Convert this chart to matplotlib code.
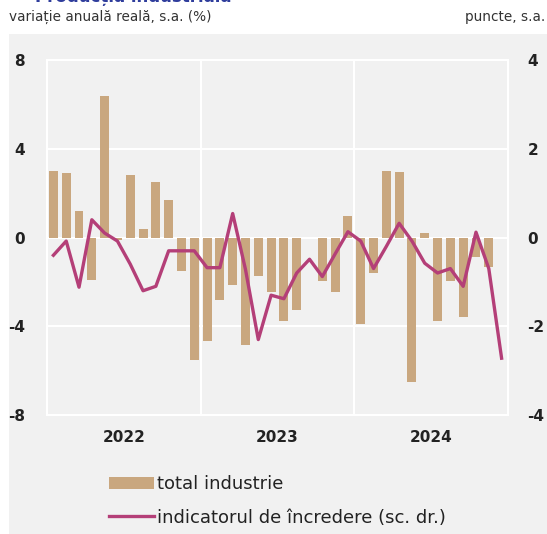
import matplotlib.pyplot as plt
from matplotlib.patches import Rectangle

# data: monthly, Jan 2022 .. Dec 2024
years = ['2022', '2023', '2024']
industrie = [3.0, 2.9, 1.2, -1.9, 6.4, -0.1, 2.8, 0.4, 2.5, 1.7, -1.5, -5.5,
             -4.65, -2.8, -2.15, -4.85, -1.75, -2.45, -3.75, -3.25, 0.0, -1.95, -2.45, 0.95,
             -3.9, -1.6, 3.0, 2.95, -6.5, 0.2, -3.75, -1.95, -3.6, -0.9, -1.35]
incredere = [-0.4, -0.08, -1.12, 0.4, 0.1, -0.08, -0.6, -1.2, -1.1, -0.3, -0.3, -0.3,
             -0.68, -0.68, 0.54, -0.72, -2.3, -1.3, -1.38, -0.8, -0.49, -0.88, -0.37, 0.13,
             -0.08, -0.7, -0.2, 0.32, -0.08, -0.58, -0.8, -0.7, -1.1, 0.12, -0.7, -2.72]

W, H = 547, 534
font = ['Liberation Sans Narrow', 'DejaVu Sans Condensed', 'DejaVu Sans']
plt.rcParams['font.family'] = font

fig = plt.figure(figsize=(W / 100, H / 100), dpi=100)
fig.patch.set_facecolor('white')
fig.patches.append(Rectangle((9 / W, 0), 1 - 9 / W, 1 - 34 / H, transform=fig.transFigure,
                             facecolor='#f1f1f1', edgecolor='none', zorder=-10))

ax = fig.add_axes([47 / W, 1 - 415 / H, (508 - 47) / W, (415 - 60) / H])
ax.set_facecolor('#f1f1f1')
ax.bar(range(len(industrie)), industrie, width=0.7, color='#c9a77f', zorder=2,
       label='total industrie')
ax.set_xlim(-0.5, 35.5)
ax.set_ylim(-8, 8)
ax.set_yticks([-8, -4, 0, 4, 8])
ax.set_yticklabels(['-8', '-4', '0', '4', '8'])
for y in [-4, 0, 4]:
    ax.axhline(y, color='white', lw=1.5, zorder=1)
for x in [11.5, 23.5]:
    ax.axvline(x, color='white', lw=1.5, zorder=1)
for s in ax.spines.values():
    s.set_color('white')
    s.set_linewidth(1.5)
ax.set_xticks([5.5, 17.5, 29.5])
ax.set_xticklabels(years)
ax.tick_params(axis='x', length=0, pad=11, labelsize=11, labelcolor='#222222')
ax.tick_params(axis='y', length=0, pad=16, labelsize=11, labelcolor='#222222')
for t in ax.get_xticklabels() + ax.get_yticklabels():
    t.set_fontweight('bold')

ax2 = ax.twinx()
ax2.plot(range(len(incredere)), incredere, color='#b43f78', lw=2.4, zorder=3,
         label='indicatorul de încredere (sc. dr.)')
ax2.set_ylim(-4, 4)
ax2.set_yticks([-4, -2, 0, 2, 4])
ax2.set_yticklabels(['-4', '-2', '0', '2', '4'])
ax2.tick_params(axis='y', length=0, pad=14, labelsize=11, labelcolor='#222222')
for t in ax2.get_yticklabels():
    t.set_fontweight('bold')
for s in ax2.spines.values():
    s.set_visible(False)

fig.text(9 / W, 1 - 17 / H, 'variație anuală reală, s.a. (%)', fontsize=9.8,
         color='#333333', va='center', ha='left')
fig.text(545 / W, 1 - 17 / H, 'puncte, s.a.', fontsize=9.8,
         color='#333333', va='center', ha='right')
fig.text(35 / W, 1 - 2.5 / H, 'Producția industrială', fontsize=12, fontweight='bold',
         color='#2f3d9c', va='baseline', ha='left')

h1, l1 = ax.get_legend_handles_labels()
h2, l2 = ax2.get_legend_handles_labels()
fig.legend(h1 + h2, l1 + l2, loc='upper left', bbox_to_anchor=(93 / W, 1 - 459 / H),
           frameon=False, fontsize=13, handlelength=2.5, handleheight=0.7,
           handletextpad=0.15, labelspacing=0.85, labelcolor='#222222')

fig.savefig('out.png', dpi=100)
